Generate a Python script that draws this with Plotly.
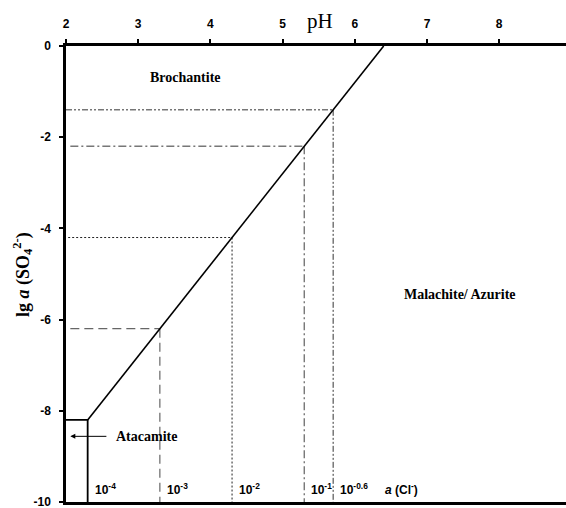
import plotly.graph_objects as go

# Data
boundary_ph = [2.3, 6.4]
boundary_lg = [-8.2, 0.0]
cl_ph = [2.3, 3.3, 4.3, 5.3, 5.7]
cl_lg = [-8.2, -6.2, -4.2, -2.2, -1.4]
cl_labels = ["10<sup>-4</sup>", "10<sup>-3</sup>", "10<sup>-2</sup>", "10<sup>-1</sup>", "10<sup>-0.6</sup>"]
x_ticks = [2, 3, 4, 5, 6, 7, 8]
y_ticks = [0, -2, -4, -6, -8, -10]
y_ticktext = ["0", "-2", "-4", "-6", "-8", "-10"]
x_range = [2, 8.925]
y_range = [-10, 0]

# guide styles for pH 3.3, 4.3, 5.3, 5.7
guide_styles = [
    None,
    dict(color="#666666", dash="9px,5px", width=1.2),
    dict(color="#222222", dash="2px,2px", width=1),
    dict(color="#777777", dash="8px,3px,2px,3px", width=1.4),
    dict(color="#333333", dash="6px,2px,2px,2px,2px,2px", width=1),
]
h_start = [2.0, 2.06, 2.03, 2.06, 2.0]

fig = go.Figure()

for i in range(1, len(cl_ph)):
    st = guide_styles[i]
    fig.add_trace(go.Scatter(x=[h_start[i], cl_ph[i]], y=[cl_lg[i], cl_lg[i]], mode="lines",
                             line=st, hoverinfo="skip", showlegend=False))
    fig.add_trace(go.Scatter(x=[cl_ph[i], cl_ph[i]], y=[cl_lg[i], y_range[0]], mode="lines",
                             line=st, hoverinfo="skip", showlegend=False))

# Atacamite box
fig.add_trace(go.Scatter(x=[x_range[0], cl_ph[0], cl_ph[0]], y=[cl_lg[0], cl_lg[0], y_range[0]],
                         mode="lines", line=dict(color="black", width=1.8),
                         hoverinfo="skip", showlegend=False))
# boundary
fig.add_trace(go.Scatter(x=boundary_ph, y=boundary_lg, mode="lines",
                         line=dict(color="black", width=1.6), hoverinfo="skip", showlegend=False))

serif = "Liberation Serif"
W, H = 566, 508
ml, mr, mt, mb = 66, 0, 46, 6
pw, ph = W - ml - mr, H - mt - mb

ann = []
for px, lab in zip(cl_ph, cl_labels):
    ann.append(dict(x=px + 0.07, y=-9.72, text="<b>" + lab + "</b>", showarrow=False,
                    xanchor="left", yanchor="middle",
                    font=dict(family="Liberation Sans", size=12, color="black")))
ann.append(dict(x=6.39, y=-9.72, text="<b><i>a</i> (Cl<sup>-</sup>)</b>", showarrow=False,
                xanchor="left", yanchor="middle",
                font=dict(family="Liberation Sans", size=12, color="black")))
ann.append(dict(x=3.66, y=-0.7, text="<b>Brochantite</b>", showarrow=False,
                font=dict(family=serif, size=14, color="black")))
ann.append(dict(x=7.46, y=-5.45, text="<b>Malachite/ Azurite</b>", showarrow=False,
                font=dict(family=serif, size=14, color="black")))
ann.append(dict(x=3.12, y=-8.56, text="<b>Atacamite</b>", showarrow=False,
                font=dict(family=serif, size=14, color="black")))
ann.append(dict(x=2.06, y=-8.56, ax=2.58, ay=-8.56, xref="x", yref="y", axref="x", ayref="y",
                text="", showarrow=True, arrowhead=2, arrowsize=1, arrowwidth=1, arrowcolor="black"))
ann.append(dict(x=(320 - ml) / pw, y=(H - 21 - mb) / ph, xref="paper", yref="paper",
                xanchor="center", yanchor="middle",
                text="pH", showarrow=False, font=dict(family=serif, size=21, color="black")))
ann.append(dict(x=(22 - ml) / pw, y=(H - 275 - mb) / ph, xref="paper", yref="paper",
                xanchor="center", yanchor="middle",
                text="<b>lg <i>a</i> (SO<sub>4</sub><sup>2-</sup>)</b>", showarrow=False,
                textangle=-90, font=dict(family=serif, size=18, color="black")))

fig.update_layout(
    width=W, height=H, margin=dict(l=ml, r=mr, t=mt, b=mb),
    paper_bgcolor="white", plot_bgcolor="white",
    annotations=ann,
    xaxis=dict(range=x_range, side="top", tickvals=x_ticks, ticks="outside", ticklen=4,
               tickwidth=2, tickcolor="black", showline=True, linewidth=2.5, linecolor="black",
               mirror=True, showgrid=False, zeroline=False, ticklabelstandoff=6,
               ticklabeloverflow="allow",
               tickfont=dict(family="Liberation Sans", size=12, color="black", weight="bold")),
    yaxis=dict(range=y_range, tickvals=y_ticks, ticktext=y_ticktext, ticks="outside", ticklen=4,
               tickwidth=2, tickcolor="black", showline=True, linewidth=2.5, linecolor="black",
               showgrid=False, zeroline=False, ticklabelstandoff=6, ticklabeloverflow="allow",
               tickfont=dict(family="Liberation Sans", size=12, color="black", weight="bold")),
)

fig.write_html("out.html", config={"responsive": False, "displayModeBar": False},
               post_script="document.body.style.margin='0';document.body.style.overflow='hidden';")
